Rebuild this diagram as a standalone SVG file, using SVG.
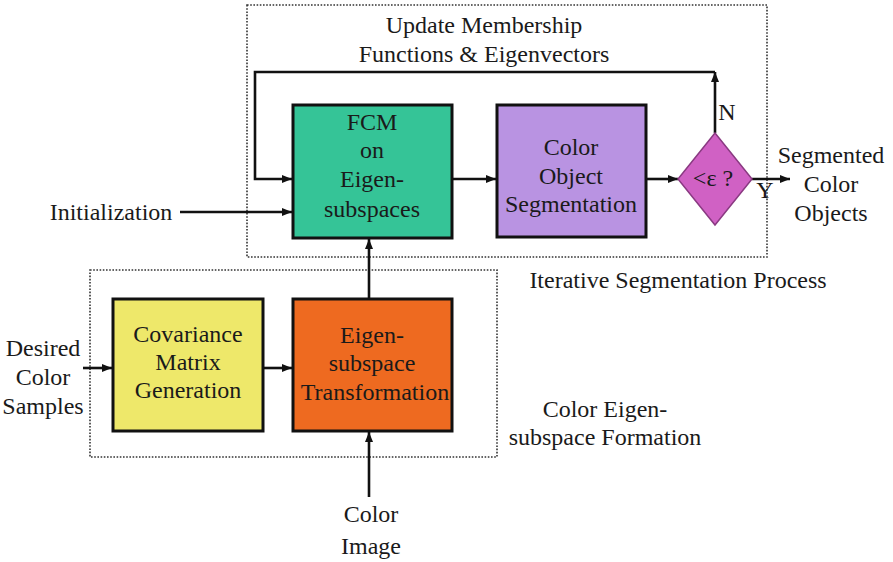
<svg xmlns="http://www.w3.org/2000/svg" width="893" height="562" viewBox="0 0 893 562">
  <defs>
    <marker id="arrow" markerUnits="userSpaceOnUse" markerWidth="10" markerHeight="8" refX="10" refY="4" orient="auto">
      <path d="M0,0 L10,4 L0,8 z" fill="#111"/>
    </marker>
    <style>
      text { font-size: 24px; fill: #1a1a1a; text-anchor: middle; }
      .box { stroke: #111; stroke-width: 3; }
      .frame { fill: none; stroke: #333; stroke-width: 1.6; stroke-dasharray: 1.6 1.6; }
      .wire { fill: none; stroke: #111; stroke-width: 2.6; }
    </style>
  </defs>

  <rect width="893" height="562" fill="#ffffff"/>

  <g font-family="Liberation Serif, DejaVu Serif, serif">
  <!-- dotted grouping frames -->
  <rect class="frame" x="247" y="5" width="520" height="252"/>
  <rect class="frame" x="90" y="270" width="407" height="187"/>

  <!-- frame captions and free labels -->
  <text x="484" y="33">Update Membership</text>
  <text x="484" y="62">Functions &amp; Eigenvectors</text>
  <text x="678" y="288">Iterative Segmentation Process</text>
  <text x="605" y="417">Color Eigen-</text>
  <text x="605" y="445">subspace Formation</text>
  <text x="111" y="220">Initialization</text>
  <text x="43" y="356">Desired</text>
  <text x="43" y="385">Color</text>
  <text x="43" y="414">Samples</text>
  <text x="371" y="522">Color</text>
  <text x="371" y="554">Image</text>
  <text x="831" y="163">Segmented</text>
  <text x="831" y="192">Color</text>
  <text x="831" y="221">Objects</text>
  <text x="727" y="120" font-size="22">N</text>
  <text x="765" y="198" font-size="22">Y</text>

  <!-- connectors -->
  <g id="connectors">
    <path class="wire" d="M715,133 V72" marker-end="url(#arrow)"/>
    <path class="wire" d="M715,72 H255 V179 H292" marker-end="url(#arrow)"/>
    <path class="wire" d="M180,212 H292" marker-end="url(#arrow)"/>
    <path class="wire" d="M452,179 H496" marker-end="url(#arrow)"/>
    <path class="wire" d="M646,179 H678" marker-end="url(#arrow)"/>
    <path class="wire" d="M752,179 H790" marker-end="url(#arrow)"/>
    <path class="wire" d="M83,368 H112" marker-end="url(#arrow)"/>
    <path class="wire" d="M263,368 H292" marker-end="url(#arrow)"/>
    <path class="wire" d="M369,298 V239" marker-end="url(#arrow)"/>
    <path class="wire" d="M369,497 V432" marker-end="url(#arrow)"/>
  </g>

  <!-- FCM node -->
  <g id="fcm">
    <rect class="box" x="293" y="105" width="159" height="133" fill="#35c497"/>
    <text x="372" y="130" fill="#10382a">FCM</text>
    <text x="372" y="158" fill="#10382a">on</text>
    <text x="372" y="187" fill="#10382a">Eigen-</text>
    <text x="372" y="217" fill="#10382a">subspaces</text>
  </g>

  <!-- segmentation node -->
  <g id="segmentation">
    <rect class="box" x="497" y="105" width="149" height="132" fill="#b993e2"/>
    <text x="571" y="155" fill="#2b1840">Color</text>
    <text x="571" y="184" fill="#2b1840">Object</text>
    <text x="571" y="212" fill="#2b1840">Segmentation</text>
  </g>

  <!-- convergence test -->
  <g id="decision">
    <polygon points="715,133 752,179 715,225 678,179" fill="#d061c4" stroke="#8a3a82" stroke-width="1.5"/>
    <text x="713" y="186" font-size="22" fill="#4a1050">&lt;ε ?</text>
  </g>

  <!-- covariance node -->
  <g id="covariance">
    <rect class="box" x="113" y="299" width="150" height="132" fill="#eee86a"/>
    <text x="188" y="342" fill="#2a2600">Covariance</text>
    <text x="188" y="370" fill="#2a2600">Matrix</text>
    <text x="188" y="398" fill="#2a2600">Generation</text>
  </g>

  <!-- transformation node -->
  <g id="transformation">
    <rect class="box" x="293" y="299" width="159" height="132" fill="#ee6a20"/>
    <text x="372" y="343" fill="#3a1505">Eigen-</text>
    <text x="372" y="371" fill="#3a1505">subspace</text>
    <text x="375" y="400" fill="#3a1505">Transformation</text>
  </g>
  </g>
</svg>
